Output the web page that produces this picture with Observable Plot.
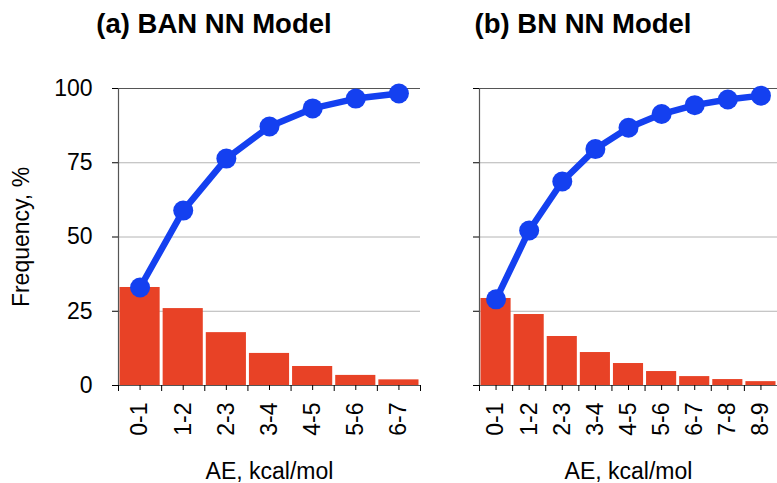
<!DOCTYPE html>
<html><head><meta charset="utf-8">
<script src="https://cdn.jsdelivr.net/npm/d3@7"></script>
<script src="https://cdn.jsdelivr.net/npm/@observablehq/plot@0.6"></script>
<style>
body{margin:0;background:#fff;font-family:"Liberation Sans",Arial,sans-serif}
#wrap{position:relative;width:777px;height:483px;overflow:hidden}
.title{position:absolute;top:10px;font-weight:bold;font-size:27.5px;line-height:1;transform:translateX(-50%);white-space:nowrap;color:#000}
#pa{position:absolute;left:0;top:45px}
#pb{position:absolute;left:440px;top:45px}
</style></head><body>
<div id="wrap">
<div class="title" style="left:214px">(a) BAN NN Model</div>
<div class="title" style="left:583px">(b) BN NN Model</div>
<div id="pa"></div><div id="pb"></div>
</div>
<script>
const binsA = ["0-1","1-2","2-3","3-4","4-5","5-6","6-7"];
const freqA = [33.0, 25.9, 17.8, 10.8, 6.4, 3.4, 1.9];
const cumA  = [33.0, 58.9, 76.4, 87.2, 93.3, 96.6, 98.3];

const binsB = ["0-1","1-2","2-3","3-4","4-5","5-6","6-7","7-8","8-9"];
const freqB = [29.3, 23.9, 16.5, 11.1, 7.4, 4.7, 3.0, 2.0, 1.3];
const cumB  = [29.0, 52.2, 68.7, 79.6, 86.8, 91.4, 94.4, 96.3, 97.6];

const yTicks = [0, 25, 50, 75, 100];
const RED = "#e84226", BLUE = "#1440f0", AX = "#555";

function panel({bins, freq, cum, width, marginLeft, marginRight, showY}) {
  const rows = bins.map((b, i) => ({i, b, f: freq[i], c: cum[i]}));
  return Plot.plot({
    width, height: 438, marginTop: 43, marginBottom: 98, marginLeft, marginRight,
    style: {fontFamily: '"Liberation Sans", Arial, sans-serif', fontSize: "23px", color: "#000", background: "#fff"},
    x: {domain: [0, bins.length]},
    y: {domain: [0, 100]},
    marks: [
      Plot.gridY([25, 50, 75], {stroke: "#b4b4b4", strokeOpacity: 1}),
      Plot.ruleY([100], {stroke: AX, strokeWidth: 1.2}),
      Plot.rectY(rows, {x1: "i", x2: d => d.i + 1, y: "f", fill: RED, insetLeft: 1.5, insetRight: 1.5}),
      Plot.ruleY([0], {stroke: AX, strokeWidth: 1.2}),
      Plot.ruleX([0], {stroke: AX, strokeWidth: 1.2}),
      Plot.axisY(yTicks, {tickSize: 6, tickPadding: 20, stroke: "#000", fontSize: 23,
        tickFormat: showY ? (d => String(d)) : (() => ""),
        label: showY ? "Frequency, %" : null, labelAnchor: "center", labelOffset: 106, labelArrow: false}),
      Plot.axisX(rows.map(d => d.i + 0.5), {tickSize: 5, tickRotate: -90, tickPadding: 12, fontSize: 23,
        tickFormat: v => bins[Math.floor(v)],
        label: "AE, kcal/mol", labelAnchor: "center", labelOffset: 93, labelArrow: false}),
      Plot.axisX(d3.range(bins.length + 1), {tickSize: 6, tickFormat: () => "", label: null}),
      Plot.line(rows, {x: d => d.i + 0.5, y: "c", stroke: BLUE, strokeWidth: 6.5}),
      Plot.dot(rows, {x: d => d.i + 0.5, y: "c", r: 10, fill: BLUE})
    ]
  });
}

document.getElementById("pa").append(panel({bins: binsA, freq: freqA, cum: cumA, width: 440, marginLeft: 118, marginRight: 20, showY: true}));
document.getElementById("pb").append(panel({bins: binsB, freq: freqB, cum: cumB, width: 337, marginLeft: 39, marginRight: 0, showY: false}));
</script>
</body></html>
